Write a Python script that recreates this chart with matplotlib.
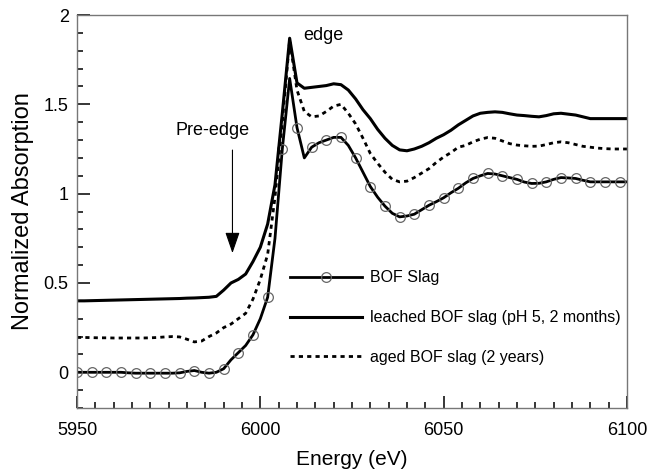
import numpy as np
import matplotlib
matplotlib.use("Agg")
import matplotlib.pyplot as plt
from matplotlib.ticker import MultipleLocator

plt.rcParams["font.family"] = ["Liberation Sans", "DejaVu Sans"]

# energy grid (eV), 2 eV steps
energy = np.arange(5950, 6101, 2)

bof_slag = [
    0.0, 0.0, 0.0, 0.0, 0.0, 0.0, 0.0, -0.003, -0.005, -0.005,
    -0.005, -0.005, -0.005, -0.005, -0.003, 0.005, 0.01, 0.0, -0.005, 0.0,
    0.02, 0.07, 0.11, 0.15, 0.21, 0.30, 0.42, 0.75, 1.25, 1.645,
    1.37, 1.20, 1.26, 1.285, 1.30, 1.315, 1.315, 1.27, 1.20, 1.12,
    1.04, 0.98, 0.93, 0.89, 0.87, 0.875, 0.885, 0.91, 0.935, 0.955,
    0.977, 1.005, 1.03, 1.06, 1.085, 1.10, 1.113, 1.11, 1.10, 1.09,
    1.08, 1.065, 1.057, 1.058, 1.066, 1.08, 1.09, 1.088, 1.085, 1.075,
    1.066, 1.066, 1.066, 1.066, 1.066, 1.066,
]

leached = [
    0.40, 0.40, 0.401, 0.402, 0.403, 0.404, 0.405, 0.406, 0.407, 0.408,
    0.409, 0.41, 0.411, 0.412, 0.413, 0.415, 0.416, 0.418, 0.42, 0.425,
    0.46, 0.50, 0.52, 0.55, 0.62, 0.70, 0.83, 1.05, 1.45, 1.87,
    1.62, 1.59, 1.595, 1.60, 1.605, 1.615, 1.61, 1.58, 1.53, 1.47,
    1.42, 1.36, 1.31, 1.27, 1.245, 1.24, 1.25, 1.265, 1.285, 1.31,
    1.33, 1.355, 1.385, 1.41, 1.435, 1.45, 1.455, 1.458, 1.455, 1.447,
    1.44, 1.437, 1.433, 1.43, 1.437, 1.447, 1.45, 1.445, 1.44, 1.43,
    1.42, 1.42, 1.42, 1.42, 1.42, 1.42,
]

aged = [
    0.195, 0.195, 0.194, 0.193, 0.193, 0.192, 0.192, 0.192, 0.192, 0.192,
    0.193, 0.195, 0.198, 0.20, 0.198, 0.185, 0.17, 0.175, 0.20, 0.22,
    0.25, 0.27, 0.30, 0.33, 0.41, 0.52, 0.66, 0.98, 1.40, 1.86,
    1.58, 1.46, 1.43, 1.435, 1.46, 1.49, 1.50, 1.45, 1.39, 1.31,
    1.225, 1.17, 1.12, 1.08, 1.066, 1.07, 1.09, 1.115, 1.14, 1.175,
    1.205, 1.23, 1.26, 1.27, 1.29, 1.305, 1.314, 1.31, 1.295, 1.28,
    1.272, 1.268, 1.265, 1.266, 1.275, 1.285, 1.29, 1.285, 1.275, 1.265,
    1.26, 1.255, 1.252, 1.25, 1.25, 1.25,
]

labels = ["BOF Slag", "leached BOF slag (pH 5, 2 months)", "aged BOF slag (2 years)"]

fig = plt.figure(figsize=(6.61, 4.75), dpi=100)
ax = fig.add_axes([0.1165, 0.141, 0.832, 0.8274])

ax.set_xlim(5950, 6100)
ax.set_ylim(-0.2, 2)
ax.xaxis.set_major_locator(MultipleLocator(50))
ax.xaxis.set_minor_locator(MultipleLocator(5))
ax.yaxis.set_major_locator(MultipleLocator(0.5))
ax.yaxis.set_minor_locator(MultipleLocator(0.1))
ax.yaxis.set_major_formatter(plt.FuncFormatter(lambda v, p: f"{v:g}"))
ax.tick_params(which="both", direction="in", bottom=True, left=True,
               top=False, right=False, color="black", labelsize=13)
ax.tick_params(which="major", length=9, width=1.1)
ax.tick_params(which="minor", length=4.5, width=1.1)
ax.tick_params(axis="x", which="major", pad=10)
ax.tick_params(axis="y", which="major", pad=6)
for s in ax.spines.values():
    s.set_color("#777777")
    s.set_linewidth(1)

ax.plot(energy, bof_slag, color="black", lw=2, marker="o", markevery=2,
        ms=7, mfc="none", mec="#666666", mew=0.9, label=labels[0])
ax.plot(energy, leached, color="black", lw=2.2, label=labels[1])
ax.plot(energy, aged, color="black", lw=2, dashes=(1.5, 1.5), label=labels[2])

ax.set_xlabel("Energy (eV)", fontsize=15, labelpad=8)
ax.set_ylabel("Normalized Absorption", fontsize=17, labelpad=7)

ax.annotate("", xy=(5992.4, 0.667), xytext=(5992.4, 1.244),
            arrowprops=dict(arrowstyle="-|>,head_length=1.3,head_width=0.45",
                            color="black", lw=0.8, shrinkA=0, shrinkB=0))
ax.text(5987.1, 1.356, "Pre-edge", fontsize=13, ha="center", va="center")
ax.text(6011.7, 1.888, "edge", fontsize=13, ha="left", va="center")

ax.legend(loc="upper left", bbox_to_anchor=(0.387, 0.35), frameon=False,
          fontsize=11.5, handlelength=4.5, handletextpad=0.55,
          labelspacing=1.55, borderpad=0, borderaxespad=0)

fig.savefig("out.png", dpi=100)
